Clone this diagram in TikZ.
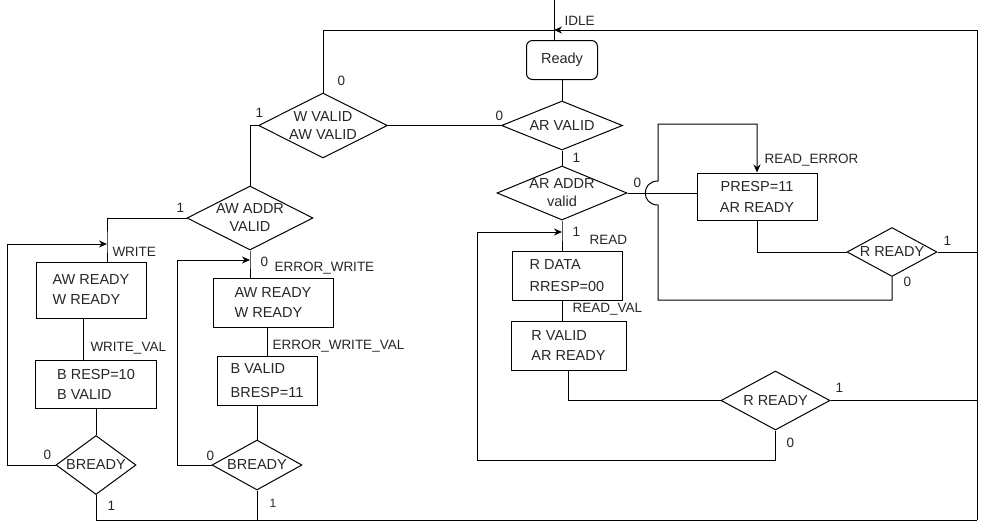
\documentclass[tikz,border=0pt]{standalone}
\usepackage{fontspec}
\setmainfont{Liberation Sans}
\usetikzlibrary{shapes.geometric,arrows.meta}

\begin{document}
\begin{tikzpicture}[x=1pt,y=-1pt,line width=1pt,
    box/.style={draw,rectangle,align=left,inner sep=0pt,text=black!85,font=\fontsize{14.5}{20}\selectfont},
    dec/.style={draw,diamond,aspect=2,inner sep=-6pt,align=center,text=black!85,font=\fontsize{14.5}{18}\selectfont},
    lbl/.style={anchor=west,inner sep=0pt,text=black!85,font=\fontsize{13.5}{16}\selectfont},
    arr/.style={-{Stealth[length=8pt,width=7pt]}}]
      \useasboundingbox (0,0) rectangle (983,523);
      \node[box,rounded corners=6pt,align=center,minimum width=71pt,minimum height=39pt] (ready) at (562,60) {\raisebox{-1.5pt}{Ready}};
      \node[dec,minimum width=121pt,minimum height=49pt] (arvalid) at (562,125.5) {AR VALID};
      \node[dec,minimum width=129pt,minimum height=65pt] (wvalid) at (323,125.5) {W VALID\\AW VALID};
      \node[dec,minimum width=126pt,minimum height=64pt] (awaddr) at (250,218) {AW ADDR\\VALID};
      \node[box,minimum width=110pt,minimum height=56pt] (wrbox) at (91,290) {AW READY\\W READY};
      \node[box,minimum width=121pt,minimum height=48pt] (bresp) at (96,384) {B RESP=10\\B VALID};
      \node[dec,minimum width=80pt,minimum height=59pt] (bready) at (96,465) {BREADY};
      \node[box,minimum width=120pt,minimum height=49pt] (erbox) at (273,302.5) {AW READY\\W READY};
      \node[box,minimum width=100pt,minimum height=49pt,font=\fontsize{14.5}{24}\selectfont] (bvalid) at (267,380.5) {B VALID\\BRESP=11};
      \node[dec,minimum width=90pt,minimum height=50pt] (bready2) at (257,465) {BREADY};
      \node[dec,minimum width=130pt,minimum height=54pt] (araddr) at (562,193) {AR ADDR\\valid};
      \node[box,align=center,minimum width=120pt,minimum height=47pt,font=\fontsize{14.5}{21}\selectfont] (presp) at (757,196.5) {PRESP=11\\AR READY};
      \node[dec,minimum width=90pt,minimum height=49pt] (rready1) at (892,252) {R READY};
      \node[box,minimum width=110pt,minimum height=49pt,font=\fontsize{14.5}{22}\selectfont] (rdata) at (567,275.5) {R DATA\\RRESP=00};
      \node[box,minimum width=115pt,minimum height=49pt] (rvalid) at (568.5,345.5) {R VALID\\AR READY};
      \node[dec,minimum width=109pt,minimum height=59pt] (rready2) at (775.5,400.5) {R READY};

      \coordinate (start) at (554,0);
      \coordinate (tr) at (977,30);
      \coordinate (br) at (977,520);
      \coordinate (wrin) at (107,244);
      \coordinate (erin) at (250,260);
      \coordinate (rdin) at (562,232);
      \coordinate (hopa) at (658,181);
      \coordinate (hopb) at (658,205);

      \draw (start) -- (start |- ready.north);
      \draw[arr] (tr) -- (start |- tr);
      \draw (wvalid.north) |- (start |- tr);
      \draw (tr) -- (br);
      \draw (ready.south) -- (arvalid.north);
      \draw (wvalid.east) -- (arvalid.west);
      \draw (wvalid.west) -| (awaddr.north);
      \draw (awaddr.west) -| (wrin) -- (wrin |- wrbox.north);
      \draw[arr] (bready.west) -| (7,465) |- (wrin);
      \draw ([xshift=-8pt]wrbox.south) -- ([xshift=-8pt]wrbox.south |- bresp.north);
      \draw (bresp.south) -- (bready.north);
      \draw (bready.south) |- (br);
      \draw (awaddr.south) -- (erin) -- (erin |- erbox.north);
      \draw[arr] (bready2.west) -| (177,465) |- (erin);
      \draw ([xshift=-6pt]erbox.south) -- ([xshift=-6pt]erbox.south |- bvalid.north);
      \draw ([xshift=-10pt]bvalid.south) -- (bready2.north);
      \draw (bready2.south) -- (bready2.south |- br);
      \draw (arvalid.south) -- (araddr.north);
      \draw (araddr.east) -- (araddr.east -| presp.west);
      \draw (araddr.south) -- (rdin) -- (rdin |- rdata.north);
      \draw (rdin |- rdata.south) -- (rdin |- rvalid.north);
      \draw (rvalid.south) |- (rready2.west);
      \draw (rready2.east) -- (rready2.east -| tr);
      \draw[arr] (rready2.south) |- (477,460) |- (rdin);
      \draw (presp.south) |- (rready1.west);
      \draw (rready1.east) -- (rready1.east -| tr);
      \draw[arr] (rready1.south) |- (658,300) -- (hopb) .. controls (641,205) and (641,181) .. (hopa) -- (658,124) -| (presp.north);

      \node[lbl] (lidle) at (564,21) {IDLE};
      \node[lbl] (lw0) at (337,81) {0};
      \node[lbl] (lw1) at (255,113) {1};
      \node[lbl] (lar0) at (495,116) {0};
      \node[lbl] (law1) at (176,208) {1};
      \node[lbl] (lwrite) at (112,252) {WRITE};
      \node[lbl] (lwval) at (90,348) {WRITE\_VAL};
      \node[lbl] (lb0) at (43,455) {0};
      \node[lbl] (lb1) at (107,506) {1};
      \node[lbl] (law0) at (260,262) {0};
      \node[lbl] (lerr) at (274,268) {ERROR\_WRITE};
      \node[lbl] (lerrval) at (272,346) {ERROR\_WRITE\_VAL};
      \node[lbl] (lbb0) at (206,456) {0};
      \node[lbl,font=\fontsize{12}{14}\selectfont] (lbb1) at (269,503) {1};
      \node[lbl] (larv1) at (572,158) {1};
      \node[lbl] (lara0) at (633,183) {0};
      \node[lbl] (lrerr) at (764,160) {READ\_ERROR};
      \node[lbl] (lrr1) at (943,241) {1};
      \node[lbl] (lrr0) at (903,282) {0};
      \node[lbl] (lara1) at (572,232) {1};
      \node[lbl] (lread) at (589,240) {READ};
      \node[lbl] (lrval) at (572,309) {READ\_VAL};
      \node[lbl] (lrs1) at (835,388) {1};
      \node[lbl] (lrs0) at (786,443) {0};
    \end{tikzpicture}
\end{document}
